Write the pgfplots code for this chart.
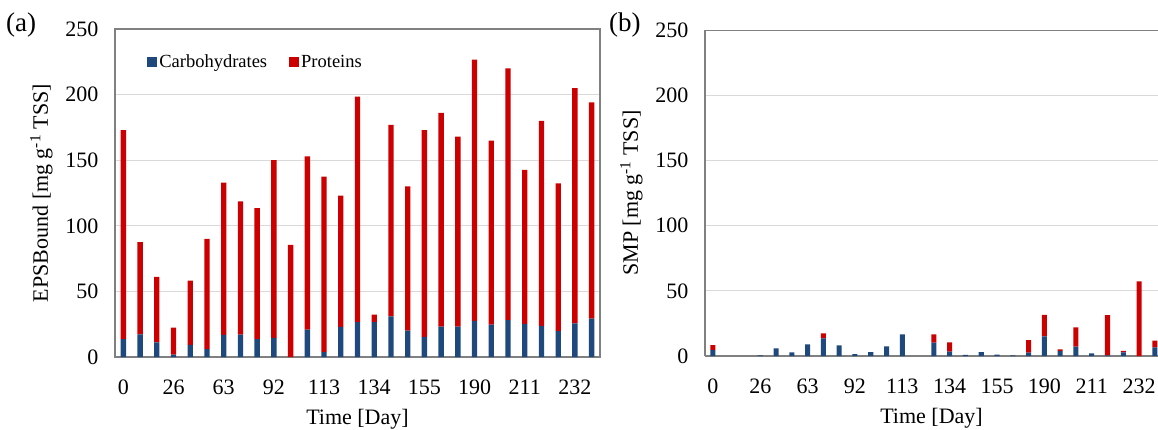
\documentclass[border=0pt]{standalone}
\usepackage{fontspec}
\setmainfont{Liberation Serif}
\usepackage{pgfplots}
\usepackage{pgfplotstable}
\pgfplotsset{compat=1.18}

\definecolor{carb}{RGB}{31,73,125}
\definecolor{prot}{RGB}{204,0,0}
\definecolor{axcol}{RGB}{128,128,128}
\definecolor{gridcol}{RGB}{217,217,217}

% bound EPS: day index, carbohydrates, proteins
\pgfplotstableread{
x carb prot
0 13.7 159.3
1 17.3 70.2
2 11.2 49.8
3 1.8 20.6
4 9.2 49.1
5 6.1 83.9
6 16.8 116.2
7 17.0 101.6
8 13.7 99.8
9 14.5 135.5
10 0.0 85.5
11 20.9 132.1
12 3.8 133.6
13 22.9 100.1
14 26.5 172.0
15 26.5 5.8
16 31.0 146.0
17 20.1 109.9
18 15.3 157.7
19 23.2 162.8
20 23.2 144.8
21 27.5 199.2
22 24.7 140.3
23 28.2 191.8
24 25.2 117.5
25 23.7 156.3
26 19.8 112.5
27 25.7 179.3
28 29.3 164.7
}\epsdata

% SMP
\pgfplotstableread{
x carb prot
0 4.6 3.8
1 0 0
2 0 0
3 0.5 0
4 5.9 0
5 2.8 0
6 8.9 0
7 13.5 3.8
8 8.1 0
9 1.5 0
10 3.0 0
11 7.4 0
12 16.5 0
13 0 0
14 10.2 6.3
15 3.3 7.1
16 0.8 0
17 3.0 0
18 1.0 0
19 0.5 0
20 2.5 9.7
21 15.0 16.5
22 3.8 1.2
23 7.1 14.9
24 2.0 0
25 0.5 30.8
26 2.8 1.2
27 0 57.3
28 6.6 5.1
}\smpdata

\pgfplotsset{
  panel/.style={
    scale only axis,
    ybar stacked,
    bar width=0.32,
    ymin=0, ymax=250,
    ytick={0,50,...,250},
    xtick={0,3,...,27},
    xticklabels={0,26,63,92,113,134,155,190,211,232},
    xmin=-0.5,
    major tick length=0pt,
    ymajorgrids,
    grid style={gridcol, line width=1pt},
    axis line style={axcol, line width=1.2pt},
    /pgf/number format/assume math mode=true,
    tick label style={font=\fontsize{22}{26}\selectfont},
    label style={font=\fontsize{22}{26}\selectfont},
    xticklabel style={yshift=-19pt},
    yticklabel style={xshift=-13pt},
    xlabel={Time [Day]},
    xlabel style={yshift=-8pt},
    ylabel style={yshift=6pt},
  },
}

\begin{document}
\begin{tikzpicture}
\useasboundingbox (0pt,0pt) rectangle (1158pt,429pt);

\begin{axis}[panel,
  at={(115pt,72pt)}, anchor=south west,
  width=485pt, height=328pt,
  xmax=28.5,
  ylabel={EPSBound [mg g\textsuperscript{-1} TSS]},
  legend style={at={(0.06,0.935)}, anchor=north west, draw=none, fill=none,
    legend columns=-1, font=\fontsize{18.5}{20}\selectfont,
    /tikz/every even column/.append style={column sep=20pt}},
]
\addplot[fill=carb, draw=none,
  legend image code/.code={\fill[carb] (0pt,-5pt) rectangle (10pt,5pt);}]
  table[x=x, y=carb] {\epsdata};
\addplot[fill=prot, draw=none,
  legend image code/.code={\fill[prot] (0pt,-5pt) rectangle (10pt,5pt);}]
  table[x=x, y=prot] {\epsdata};
\legend{Carbohydrates, Proteins}
\end{axis}

\begin{axis}[panel,
  at={(705pt,73pt)}, anchor=south west,
  width=453pt, height=326pt,
  xmax=28.2,
  axis x line*=bottom, axis y line*=left,
  ylabel={SMP [mg g\textsuperscript{-1} TSS]},
]
\addplot[fill=carb, draw=none] table[x=x, y=carb] {\smpdata};
\addplot[fill=prot, draw=none] table[x=x, y=prot] {\smpdata};
\draw[axcol, line width=1.2pt] (rel axis cs:0,1) -- (rel axis cs:1,1);
\end{axis}

\node[anchor=north west, inner sep=0pt, font=\fontsize{27}{30}\selectfont] at (6pt,416pt) {(a)};
\node[anchor=north west, inner sep=0pt, font=\fontsize{27}{30}\selectfont] at (609pt,416pt) {(b)};
\end{tikzpicture}
\end{document}
